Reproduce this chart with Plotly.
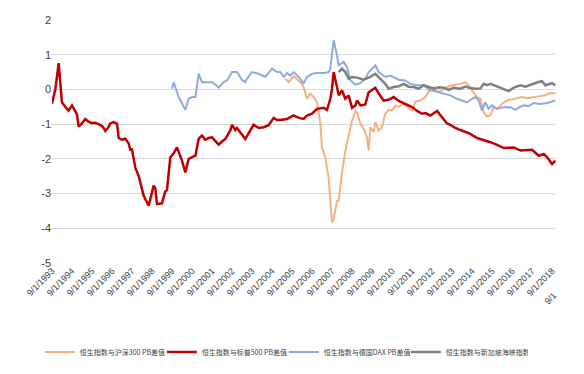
import plotly.graph_objects as go

# ---------------- data ----------------
sp500_dates = ["1993-09","1993-11","1994-01","1994-03","1994-05","1994-07","1994-09","1994-11","1994-12",
    "1995-01","1995-03","1995-05","1995-07","1995-09","1995-11","1996-01","1996-03","1996-04","1996-05",
    "1996-07","1996-08","1996-10","1996-12","1997-01","1997-03","1997-05","1997-07","1997-08","1997-09",
    "1997-11","1998-01","1998-04","1998-06","1998-07","1998-10","1998-11","1998-12","1999-03","1999-05",
    "1999-06","1999-08","1999-10","1999-12","2000-03","2000-05","2000-07","2000-09","2000-11","2001-01",
    "2001-03","2001-05","2001-07","2001-09","2001-11","2002-01","2002-03","2002-05","2002-08","2002-09",
    "2002-11","2002-12","2003-03","2003-05","2003-08","2003-10","2004-01","2004-04","2004-07","2004-10",
    "2004-12","2005-02","2005-06","2005-10","2006-01","2006-04","2006-06","2006-09","2006-12","2007-04",
    "2007-06","2007-08","2007-09","2007-10","2007-12","2008-01","2008-03","2008-05","2008-07","2008-09",
    "2008-11","2008-12","2009-02","2009-05","2009-07","2009-11","2010-01","2010-04","2010-07","2010-10",
    "2011-01","2011-04","2011-06","2011-09","2011-12","2012-03","2012-05","2012-08","2012-12","2013-03",
    "2013-06","2013-08","2013-11","2014-02","2014-05","2014-08","2014-12","2015-04","2015-08","2015-12",
    "2016-04","2016-10","2017-02","2017-09","2018-01","2018-04","2018-06","2018-09","2018-11"]
sp500_vals = [-0.41,0.0,0.76,-0.37,-0.50,-0.61,-0.46,-0.62,-0.72,
    -1.07,-0.98,-0.85,-0.93,-0.97,-0.96,-1.00,-1.05,-1.11,-1.20,
    -1.08,-0.98,-0.94,-0.99,-1.40,-1.45,-1.42,-1.55,-1.74,-1.73,
    -2.26,-2.49,-3.06,-3.25,-3.35,-2.77,-2.85,-3.30,-3.28,-2.94,
    -2.90,-1.96,-1.84,-1.67,-2.05,-2.39,-2.00,-1.95,-1.91,-1.42,
    -1.33,-1.45,-1.40,-1.38,-1.48,-1.59,-1.50,-1.43,-1.18,-1.02,
    -1.17,-1.11,-1.30,-1.43,-1.18,-1.02,-1.11,-1.09,-1.03,-0.82,
    -0.88,-0.88,-0.85,-0.75,-0.82,-0.85,-0.75,-0.70,-0.56,-0.53,
    -0.59,-0.27,0.02,0.50,0.07,-0.17,-0.03,-0.27,-0.17,-0.53,
    -0.46,-0.32,-0.46,-0.43,-0.08,0.05,-0.12,-0.32,-0.30,-0.22,
    -0.33,-0.39,-0.45,-0.51,-0.62,-0.70,-0.68,-0.75,-0.62,-0.80,
    -0.98,-1.02,-1.11,-1.17,-1.23,-1.28,-1.40,-1.45,-1.52,-1.60,
    -1.69,-1.67,-1.76,-1.74,-1.91,-1.86,-1.95,-2.15,-2.05]

dax_dates = ["1999-09","1999-10","2000-01","2000-05","2000-07","2000-09","2000-11","2001-01","2001-03",
    "2001-05","2001-09","2001-11","2002-01","2002-04","2002-06","2002-09","2002-12","2003-03","2003-05",
    "2003-06","2003-09","2004-01","2004-05","2004-09","2004-12","2005-02","2005-04","2005-06","2005-08",
    "2005-10","2006-01","2006-04","2006-06","2006-09","2006-12","2007-04","2007-07","2007-08","2007-09",
    "2007-10","2007-12","2008-01","2008-04","2008-06","2008-08","2008-11","2009-02","2009-05","2009-07",
    "2009-11","2010-01","2010-05","2010-08","2010-10","2011-01","2011-05","2011-08","2011-12","2012-04",
    "2012-08","2012-11","2013-03","2013-08","2013-12","2014-03","2014-06","2014-09","2014-11","2015-01",
    "2015-03","2015-05","2015-07","2015-09","2015-12","2016-04","2016-08","2016-11","2017-01","2017-04",
    "2017-07","2017-10","2018-02","2018-06","2018-11"]
dax_vals = [0.02,0.21,-0.22,-0.59,-0.27,-0.22,-0.22,0.45,0.21,
    0.21,0.21,0.14,0.05,0.21,0.26,0.50,0.50,0.28,0.21,
    0.31,0.50,0.45,0.36,0.60,0.50,0.50,0.36,0.47,0.40,
    0.50,0.36,0.18,0.36,0.45,0.47,0.47,0.50,0.60,1.03,
    1.42,0.98,0.69,0.79,0.64,0.26,0.14,0.18,0.31,0.50,
    0.69,0.50,0.36,0.40,0.36,0.28,0.26,0.16,0.12,0.12,
    -0.03,-0.05,-0.11,-0.17,-0.27,-0.32,-0.37,-0.27,-0.22,-0.32,
    -0.61,-0.37,-0.56,-0.46,-0.56,-0.51,-0.51,-0.59,-0.52,-0.46,
    -0.48,-0.39,-0.42,-0.39,-0.32]

sti_dates = ["2008-01","2008-03","2008-05","2008-07","2008-09","2008-12","2009-04","2009-08","2009-11",
    "2010-02","2010-05","2010-07","2010-10","2011-01","2011-04","2011-07","2011-10","2012-01","2012-04",
    "2012-07","2012-10","2013-01","2013-04","2013-07","2013-10","2014-02","2014-05","2014-08","2014-11",
    "2015-02","2015-04","2015-06","2015-08","2015-12","2016-04","2016-07","2016-10","2017-02","2017-05",
    "2017-09","2017-12","2018-03","2018-05","2018-07","2018-09","2018-11"]
sti_vals = [0.50,0.60,0.50,0.31,0.36,0.34,0.28,0.36,0.45,
    0.31,0.16,0.02,0.07,0.09,0.16,0.08,0.07,0.02,0.12,
    0.07,0.02,0.06,0.05,-0.01,0.05,0.02,0.08,0.04,0.02,
    0.03,0.16,0.12,0.16,0.09,0.02,-0.05,0.05,0.12,0.08,
    0.16,0.20,0.24,0.12,0.15,0.18,0.12]

csi_dates = ["2005-05","2005-07","2005-10","2006-02","2006-04","2006-06","2006-08","2006-10","2006-12",
    "2007-02","2007-03","2007-05","2007-07","2007-08","2007-09","2007-10","2007-12","2008-01","2008-03",
    "2008-05","2008-07","2008-08","2008-09","2008-11","2008-12","2009-02","2009-04","2009-06","2009-07",
    "2009-08","2009-10","2009-11","2010-01","2010-03","2010-05","2010-07","2010-09","2010-11","2011-01",
    "2011-04","2011-06","2011-09","2011-11","2012-02","2012-05","2012-08","2012-10","2012-12","2013-03",
    "2013-06","2013-09","2014-02","2014-05","2014-07","2014-09","2014-12","2015-02","2015-04","2015-06",
    "2015-08","2015-10","2015-12","2016-04","2016-07","2016-09","2016-11","2017-03","2017-06","2017-09",
    "2018-01","2018-05","2018-07","2018-09","2018-11"]
csi_vals = [0.31,0.21,0.38,0.21,0.07,-0.27,-0.12,-0.22,-0.37,
    -0.99,-1.67,-1.96,-2.55,-3.20,-3.84,-3.74,-3.21,-3.21,-2.40,
    -1.78,-1.28,-1.10,-0.90,-0.62,-0.66,-0.99,-1.14,-1.38,-1.76,
    -1.09,-1.23,-0.94,-1.18,-1.09,-0.70,-0.58,-0.61,-0.46,-0.50,
    -0.40,-0.50,-0.61,-0.35,-0.32,-0.22,0.02,0.07,-0.08,-0.03,
    0.07,0.12,0.16,0.21,0.12,-0.03,-0.22,-0.27,-0.66,-0.78,
    -0.75,-0.51,-0.56,-0.37,-0.30,-0.29,-0.27,-0.22,-0.25,-0.22,
    -0.20,-0.17,-0.12,-0.11,-0.11]

names = ["恒生指数与沪深300 PB差值", "恒生指数与标普500 PB差值",
         "恒生指数与德国DAX PB差值", "恒生指数与新加坡海峡指数PB差"]
y_ticks = [2, 1, 0, -1, -2, -3, -4, -5]
y_ticktext = ["2", "1", "0", "-1", "-2", "-3", "-4", "-5"]
clipped_label = "9/1"

# ---------------- figure ----------------
fig = go.Figure()
fig.add_trace(go.Scatter(x=csi_dates, y=csi_vals, mode="lines", name=names[0],
                         line=dict(color="#F4B183", width=2)))
fig.add_trace(go.Scatter(x=sp500_dates, y=sp500_vals, mode="lines", name=names[1],
                         line=dict(color="#C00000", width=2.5)))
fig.add_trace(go.Scatter(x=dax_dates, y=dax_vals, mode="lines", name=names[2],
                         line=dict(color="#8FAADC", width=2)))
fig.add_trace(go.Scatter(x=sti_dates, y=sti_vals, mode="lines", name=names[3],
                         line=dict(color="#7F7F7F", width=2.5)))

fig.update_layout(
    width=584, height=374,
    margin=dict(l=44, r=36, t=12, b=119, autoexpand=False),
    paper_bgcolor="white", plot_bgcolor="white",
    font=dict(family="Liberation Sans Narrow, Arial Narrow, sans-serif", color="#404040", size=10),
    legend=dict(orientation="h", x=0.46, xanchor="center", y=-0.366, yanchor="middle",
                font=dict(family="Noto Sans CJK SC", size=7, color="#404040"),
                itemwidth=30, entrywidth=77, entrywidthmode="pixels", tracegroupgap=0),
    showlegend=True,
    annotations=[dict(text=clipped_label, xref="paper", yref="paper", x=0.990, y=-0.144,
                      xanchor="center", yanchor="middle", textangle=-45,
                      showarrow=False, font=dict(size=9, color="#404040"))],
)
fig.update_xaxes(type="date", range=["1993-09-01", "2018-11-12"],
                 tick0="1993-09-01", dtick="M12", tickformat="%-m/%-d/%Y",
                 tickangle=-45, tickfont=dict(size=9, color="#404040"), automargin=False,
                 showgrid=False, showline=False, zeroline=False, ticks="")
fig.update_yaxes(range=[-5, 2], tickvals=y_ticks, ticktext=y_ticktext,
                 tickfont=dict(size=11, color="#404040"), automargin=False,
                 showgrid=True, gridcolor="#D9D9D9", gridwidth=1,
                 zeroline=False, showline=False, ticks="")

fig.write_html("out.html")
